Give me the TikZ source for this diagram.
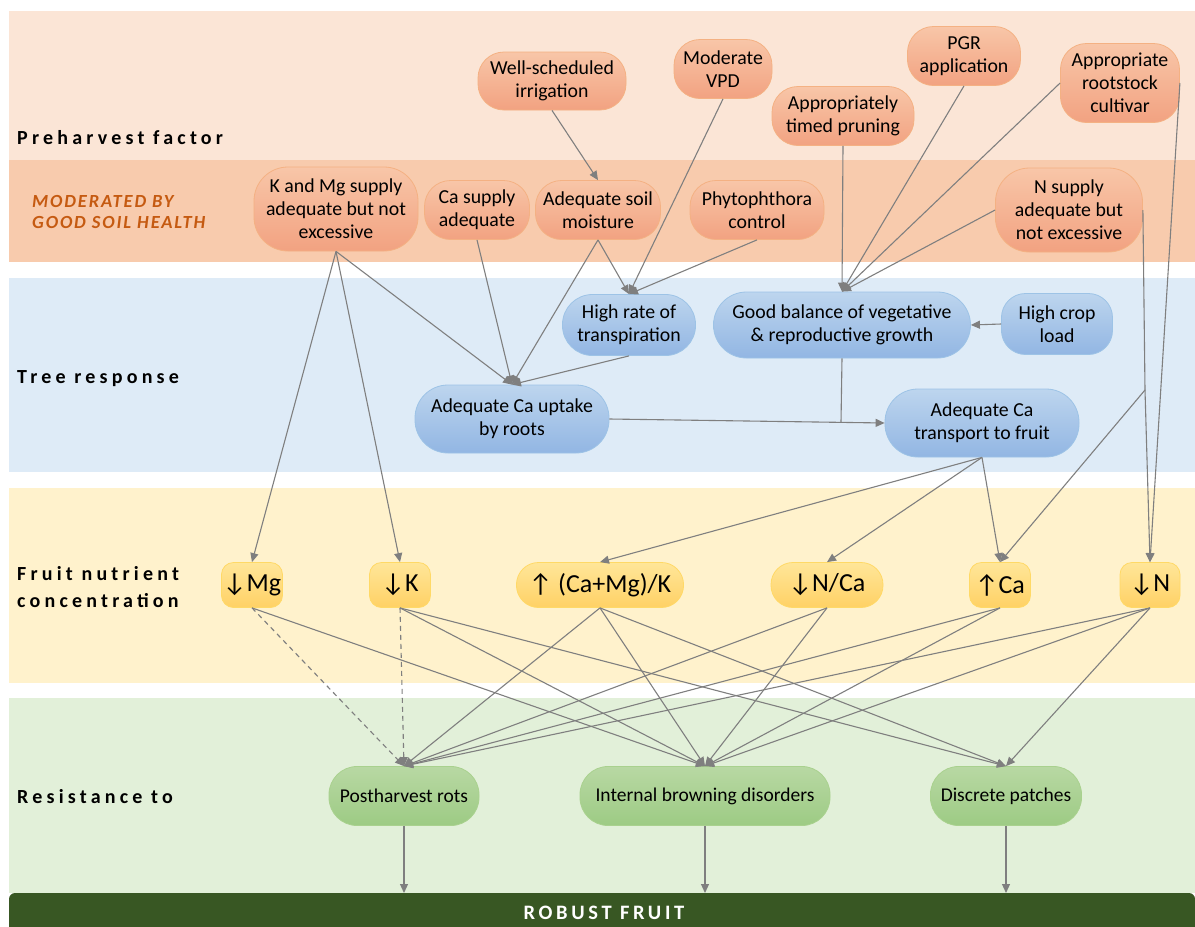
\documentclass[tikz,border=0pt]{standalone}
\usepackage{fontspec}
\setmainfont{Carlito}
\newfontfamily\bandfont[LetterSpace=21]{Carlito}
\newfontfamily\soilfont[LetterSpace=10]{Carlito}
\newfontfamily\robustfont[LetterSpace=18]{Carlito}
\usetikzlibrary{arrows.meta}

\definecolor{preband}{HTML}{FBE5D6}
\definecolor{soilband}{HTML}{F8CBAD}
\definecolor{treeband}{HTML}{DEEBF7}
\definecolor{fruitband}{HTML}{FFF2CC}
\definecolor{resband}{HTML}{E2F0D9}
\definecolor{barcol}{HTML}{385723}
\definecolor{soiltext}{HTML}{C55A11}
\definecolor{linkgray}{HTML}{7F7F7F}
\definecolor{factortop}{HTML}{F8C6A8}
\definecolor{factorbot}{HTML}{F2A281}
\definecolor{factorline}{HTML}{F4B183}
\definecolor{treetop}{HTML}{BDD5EE}
\definecolor{treebot}{HTML}{92B6E3}
\definecolor{treeline}{HTML}{9DC3E6}
\definecolor{nutrtop}{HTML}{FFE699}
\definecolor{nutrbot}{HTML}{FFD165}
\definecolor{nutrline}{HTML}{FFD966}
\definecolor{restop}{HTML}{B8D8A3}
\definecolor{resbot}{HTML}{9DCB84}
\definecolor{resline}{HTML}{A9D18E}

\tikzset{
	factor/.style={draw=factorline, line width=0.8pt, top color=factortop, bottom color=factorbot, rounded corners=26pt, align=center, inner sep=0pt, font=\fontsize{19.8}{23}\selectfont},
	tree/.style={draw=treeline, line width=0.8pt, top color=treetop, bottom color=treebot, rounded corners=30pt, align=center, inner sep=0pt, font=\fontsize{19.8}{23}\selectfont},
	nutrient/.style={draw=nutrline, line width=0.8pt, top color=nutrtop, bottom color=nutrbot, rounded corners=12pt, minimum height=45pt, inner sep=0pt, font=\fontsize{26}{30}\selectfont},
	resist/.style={draw=resline, line width=0.8pt, top color=restop, bottom color=resbot, rounded corners=28pt, minimum height=59pt, inner sep=0pt, font=\fontsize{19.5}{23}\selectfont},
	bandlabel/.style={inner sep=0pt, align=left, font=\bandfont\bfseries\fontsize{20}{27}\selectfont},
	link/.style={draw=linkgray, line width=1.1pt, -{Triangle[length=9pt,width=8pt]}},
	plain/.style={draw=linkgray, line width=1.1pt},
}

\begin{document}
\begin{tikzpicture}[x=1pt, y=-1pt]
			%%%%% START %%%%%
			\useasboundingbox (0, 0) rectangle (1195, 927);
			
			% bands
			\fill[preband] (9, 11) rectangle (1195, 160);
			\fill[soilband] (9, 160) rectangle (1195, 262);
			\fill[treeband] (9, 278) rectangle (1195, 472);
			\fill[fruitband] (9, 488) rectangle (1195, 683);
			\fill[resband] (9, 698) rectangle (1195, 893);
			\fill[barcol, rounded corners=6pt] (9, 893) rectangle (1195, 950);
			\coordinate (bartop) at (0, 893);
			
			% band labels
			\node[bandlabel, anchor=base west] (lblpre) at (17, 144) {Preharvest factor};
			\node[inner sep=0pt, align=left, anchor=west, text=soiltext, font=\soilfont\bfseries\itshape\fontsize{18.5}{21}\selectfont] (lblsoil) at (32, 211.5) {MODERATED BY\\GOOD SOIL HEALTH};
			\node[bandlabel, anchor=base west] (lbltree) at (17, 383) {Tree response};
			\node[bandlabel, anchor=west] (lblfruit) at (17, 587) {Fruit nutrient\\concentration};
			\node[bandlabel, anchor=base west] (lblres) at (17, 803) {Resistance to};
			\node[inner sep=0pt, text=white, font=\robustfont\bfseries\fontsize{20.5}{24}\selectfont] (lblrobust) at (604, 913) {ROBUST FRUIT};
			
			% preharvest factors
			\node[factor, minimum width=148pt, minimum height=58pt] (irrig) at (552, 81) {Well-scheduled\\irrigation};
			\node[factor, minimum width=98pt, minimum height=59pt] (vpd) at (723, 69) {Moderate\\VPD};
			\node[factor, minimum width=142pt, minimum height=59pt] (prune) at (843, 116) {Appropriately\\timed pruning};
			\node[factor, minimum width=113pt, minimum height=59pt] (pgr) at (964, 56) {PGR\\application};
			\node[factor, minimum width=119pt, minimum height=79pt] (root) at (1120, 83) {Appropriate\\rootstock\\cultivar};
			
			\node[factor, minimum width=164pt, minimum height=84pt, rounded corners=34pt] (kmg) at (336, 209) {K and Mg supply\\adequate but not\\excessive};
			\node[factor, minimum width=105pt, minimum height=59pt] (casup) at (477, 210) {Ca supply\\adequate};
			\node[factor, minimum width=125pt, minimum height=59pt] (moist) at (598, 210) {Adequate soil\\moisture};
			\node[factor, minimum width=134pt, minimum height=59pt] (phyto) at (757, 210) {Phytophthora\\control};
			\node[factor, minimum width=147pt, minimum height=84pt, rounded corners=34pt] (nsup) at (1069, 210) {N supply\\adequate but\\not excessive};
			
			% tree response
			\node[tree, minimum width=133pt, minimum height=61pt] (trans) at (629, 325) {High rate of\\transpiration};
			\node[tree, minimum width=257pt, minimum height=66pt, rounded corners=33pt] (balance) at (842, 325) {Good balance of vegetative\\\& reproductive growth};
			\node[tree, minimum width=111pt, minimum height=61pt, rounded corners=24pt] (cropload) at (1057, 324) {High crop\\load};
			\node[tree, minimum width=194pt, minimum height=68pt, rounded corners=33pt] (uptake) at (512, 419) {Adequate Ca uptake\\by roots};
			\node[tree, minimum width=194pt, minimum height=68pt, rounded corners=33pt] (transport) at (982, 423) {Adequate Ca\\transport to fruit};
			
			% fruit nutrient concentration
			\node[nutrient, minimum width=61pt] (mg) at (252, 585) {↓Mg};
			\node[nutrient, minimum width=61pt] (k) at (400, 585) {↓K};
			\node[nutrient, minimum width=167pt, rounded corners=22pt] (camgk) at (600, 585) {↑ (Ca+Mg)/K};
			\node[nutrient, minimum width=112pt, rounded corners=22pt] (ncar) at (827, 585) {↓N/Ca};
			\node[nutrient, minimum width=61pt] (ca) at (1000, 585) {↑Ca};
			\node[nutrient, minimum width=60pt] (n) at (1150, 585) {↓N};
			
			% resistance
			\node[resist, minimum width=150pt] (rots) at (404, 796) {Postharvest rots};
			\node[resist, minimum width=250pt] (brown) at (705, 796) {Internal browning disorders};
			\node[resist, minimum width=151pt] (patch) at (1006, 796) {Discrete patches};
			
			% preharvest -> tree response
			\draw[link] (irrig.south) -- (moist.north);
			\draw[link] (vpd.south) -- (trans.north);
			\draw[link] (moist.south) -- (trans.north);
			\draw[link] (phyto.south) -- (trans.north);
			\draw[link] (moist.south) -- (uptake.north);
			\draw[link] (casup.south) -- (uptake.north);
			\draw[link] (kmg.south) -- (uptake.north);
			\draw[link] (trans.south) -- (uptake.north);
			\draw[link] (kmg.south) -- (mg.north);
			\draw[link] (kmg.south) -- (k.north);
			
			\draw[link] (prune.south) -- (balance.north);
			\draw[link] (pgr.south) -- (balance.north);
			\draw[link] (root.west) -- (balance.north);
			\draw[link] (nsup.west) -- (balance.north);
			\draw[link] (cropload.west) -- (balance.east);
			
			\coordinate (nfork) at (1145, 390);
			\draw[plain] (nsup.east) -- (nfork);
			\draw[link] (nfork) -- (n.north);
			\draw[link] (nfork) -- (ca.north);
			\draw[link] (root.east) -- (n.north);
			
			\coordinate (merge) at (841, 422.4);
			\draw[plain] (balance.south) -- (merge);
			\draw[link] (uptake.east) -- (transport.west);
			
			% tree response -> fruit
			\draw[link] (transport.south) -- (camgk.north);
			\draw[link] (transport.south) -- (ncar.north);
			\draw[link] (transport.south) -- (ca.north);
			
			% fruit -> resistance
			\draw[link, dash pattern=on 5pt off 4pt] (mg.south) -- (rots.north);
			\draw[link] (mg.south) -- (brown.north);
			\draw[link, dash pattern=on 5pt off 4pt] (k.south) -- (rots.north);
			\draw[link] (k.south) -- (brown.north);
			\draw[link] (k.south) -- (patch.north);
			\draw[link] (camgk.south) -- (rots.north);
			\draw[link] (camgk.south) -- (brown.north);
			\draw[link] (camgk.south) -- (patch.north);
			\draw[link] (ncar.south) -- (rots.north);
			\draw[link] (ncar.south) -- (brown.north);
			\draw[link] (ca.south) -- (rots.north);
			\draw[link] (ca.south) -- (brown.north);
			\draw[link] (n.south) -- (rots.north);
			\draw[link] (n.south) -- (brown.north);
			\draw[link] (n.south) -- (patch.north);
			
			% resistance -> robust fruit
			\draw[link] (rots.south) -- (rots.south |- bartop);
			\draw[link] (brown.south) -- (brown.south |- bartop);
			\draw[link] (patch.south) -- (patch.south |- bartop);
			
			%%%%% END %%%%%
\end{tikzpicture}
\end{document}
